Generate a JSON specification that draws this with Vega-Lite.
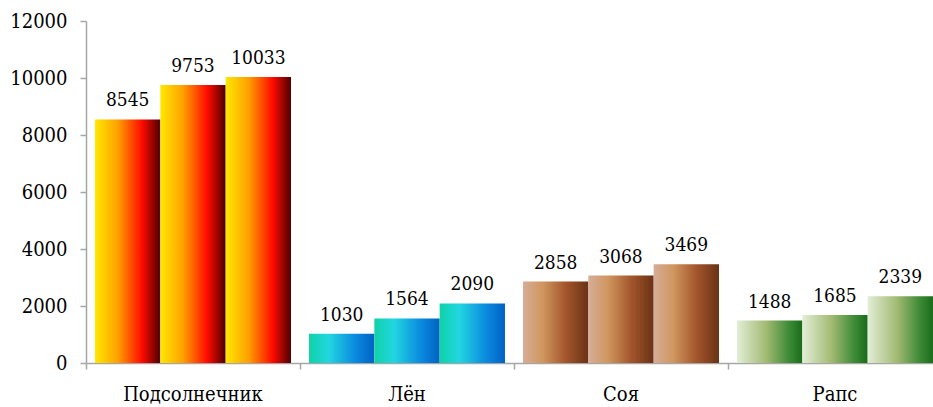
{
  "$schema": "https://vega.github.io/schema/vega-lite/v6.json",
  "width": 856,
  "height": 342,
  "autosize": {"type": "none"},
  "padding": {"left": 86, "top": 21, "right": 0, "bottom": 44},
  "background": "white",
  "config": {
    "view": {"stroke": null},
    "axis": {
      "labelFont": "DejaVu Serif Condensed",
      "labelFontSize": 20,
      "labelColor": "#000000",
      "domainColor": "#a6a6a6",
      "domainWidth": 1.5,
      "tickColor": "#a6a6a6",
      "tickWidth": 1.5,
      "tickSize": 6,
      "grid": false,
      "title": null
    }
  },
  "data": {
    "values": [
      {"crop": "Подсолнечник", "period": 1, "value": 8545},
      {"crop": "Подсолнечник", "period": 2, "value": 9753},
      {"crop": "Подсолнечник", "period": 3, "value": 10033},
      {"crop": "Лён", "period": 1, "value": 1030},
      {"crop": "Лён", "period": 2, "value": 1564},
      {"crop": "Лён", "period": 3, "value": 2090},
      {"crop": "Соя", "period": 1, "value": 2858},
      {"crop": "Соя", "period": 2, "value": 3068},
      {"crop": "Соя", "period": 3, "value": 3469},
      {"crop": "Рапс", "period": 1, "value": 1488},
      {"crop": "Рапс", "period": 2, "value": 1685},
      {"crop": "Рапс", "period": 3, "value": 2339}
    ]
  },
  "encoding": {
    "x": {
      "field": "crop",
      "type": "nominal",
      "sort": ["Подсолнечник", "Лён", "Соя", "Рапс"],
      "scale": {"paddingInner": 0, "paddingOuter": 0},
      "axis": {"labelAngle": 0, "bandPosition": 0, "labelPadding": 15}
    },
    "xOffset": {
      "field": "period",
      "type": "nominal",
      "scale": {"paddingInner": 0, "paddingOuter": 0.138}
    },
    "y": {
      "field": "value",
      "type": "quantitative",
      "scale": {"domain": [0, 12000], "nice": false},
      "axis": {"values": [0, 2000, 4000, 6000, 8000, 10000, 12000], "labelPadding": 13, "format": "d"}
    }
  },
  "layer": [
    {
      "transform": [{"filter": "datum.crop === 'Подсолнечник'"}],
      "mark": {
        "type": "bar",
        "fill": {
          "gradient": "linear", "x1": 0, "y1": 0, "x2": 1, "y2": 0,
          "stops": [
            {"offset": 0, "color": "#ffe800"},
            {"offset": 0.35, "color": "#ffa000"},
            {"offset": 0.72, "color": "#ff0a00"},
            {"offset": 1, "color": "#4d0000"}
          ]
        }
      }
    },
    {
      "transform": [{"filter": "datum.crop === 'Лён'"}],
      "mark": {
        "type": "bar",
        "fill": {
          "gradient": "linear", "x1": 0, "y1": 0, "x2": 1, "y2": 0,
          "stops": [
            {"offset": 0, "color": "#0fd2a8"},
            {"offset": 0.3, "color": "#22d6e0"},
            {"offset": 0.7, "color": "#0a8ce0"},
            {"offset": 1, "color": "#0062c4"}
          ]
        }
      }
    },
    {
      "transform": [{"filter": "datum.crop === 'Соя'"}],
      "mark": {
        "type": "bar",
        "fill": {
          "gradient": "linear", "x1": 0, "y1": 0, "x2": 1, "y2": 0,
          "stops": [
            {"offset": 0, "color": "#d6ad98"},
            {"offset": 0.3, "color": "#d0975e"},
            {"offset": 0.65, "color": "#a4562c"},
            {"offset": 1, "color": "#6a3214"}
          ]
        }
      }
    },
    {
      "transform": [{"filter": "datum.crop === 'Рапс'"}],
      "mark": {
        "type": "bar",
        "fill": {
          "gradient": "linear", "x1": 0, "y1": 0, "x2": 1, "y2": 0,
          "stops": [
            {"offset": 0, "color": "#e2eed6"},
            {"offset": 0.45, "color": "#a2ba72"},
            {"offset": 0.8, "color": "#3c8a36"},
            {"offset": 1, "color": "#1a6c1a"}
          ]
        }
      }
    },
    {
      "mark": {
        "type": "text",
        "font": "DejaVu Serif Condensed",
        "fontSize": 19,
        "color": "#000000",
        "baseline": "alphabetic",
        "dy": -13
      },
      "encoding": {
        "text": {"field": "value", "type": "quantitative", "format": "d"}
      }
    }
  ]
}
